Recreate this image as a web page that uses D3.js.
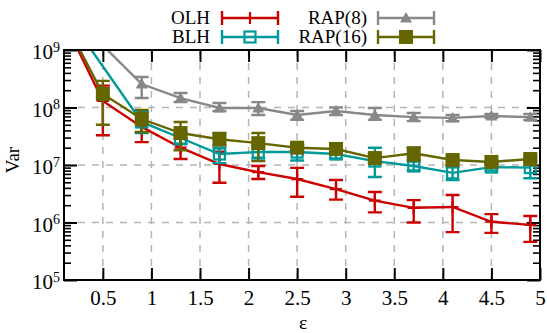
<!DOCTYPE html>
<html>
<head>
<meta charset="utf-8">
<script src="https://cdn.jsdelivr.net/npm/d3@7"></script>
<style>
  body { margin: 0; background: #fff; }
  svg { display: block; font-family: "Liberation Serif", "Times New Roman", serif; }
</style>
</head>
<body>
<svg id="chart"></svg>
<script>
// epsilon values (first one is off the top of the plot)
var eps = [0.1, 0.5, 0.9, 1.3, 1.7, 2.1, 2.5, 2.9, 3.3, 3.7, 4.1, 4.5, 4.9];

var olh   = [3.2e9, 1.3e8, 4.6e7, 2.0e7, 1.04e7, 7.5e6, 5.7e6, 3.8e6, 2.4e6, 1.8e6, 1.86e6, 1.03e6, 9.1e5];
var olhLo = [2.5e9, 3.3e7, 2.5e7, 1.27e7, 4.9e6, 5.7e6, 2.8e6, 2.5e6, 1.5e6, 1.0e6, 6.8e5, 6.6e5, 4.6e5];
var olhHi = [4e9, 2.4e8, 8.3e7, 2.9e7, 1.7e7, 9.6e6, 8.9e6, 5.5e6, 3.4e6, 2.45e6, 3.0e6, 1.4e6, 1.3e6];

var blh   = [4.8e9, null, 5.6e7, 2.95e7, 1.55e7, 1.68e7, 1.68e7, 1.55e7, 1.17e7, 9.6e6, 7.3e6, 9.2e6, 9.0e6];
var blhLo = [4e9, null, 3.6e7, 2.3e7, 1.08e7, 1.3e7, 1.2e7, 1.3e7, 6.2e6, 8.0e6, 5.5e6, 8.0e6, 5.9e6];
var blhHi = [6e9, null, 8.3e7, 3.6e7, 2.0e7, 2.1e7, 2.2e7, 1.9e7, 2.0e7, 1.15e7, 9.2e6, 1.05e7, 1.2e7];

var rap8   = [4.6e9, 1.2e9, 2.56e8, 1.46e8, 9.8e7, 9.8e7, 7.4e7, 8.7e7, 7.4e7, 6.8e7, 6.6e7, 7.1e7, 6.8e7];
var rap8Lo = [4e9, 1.1e9, 1.46e8, 1.25e8, 8.7e7, 7.4e7, 6.1e7, 7.4e7, 6.1e7, 5.8e7, 5.8e7, 6.6e7, 6.1e7];
var rap8Hi = [5e9, 1.4e9, 3.4e8, 1.79e8, 1.2e8, 1.24e8, 8.7e7, 1.0e8, 9.8e7, 8.0e7, 7.4e7, 7.7e7, 7.7e7];

var rap16   = [3.4e9, 1.72e8, 6.3e7, 3.6e7, 2.8e7, 2.4e7, 2.0e7, 1.9e7, 1.32e7, 1.6e7, 1.22e7, 1.13e7, 1.27e7];
var rap16Lo = [3e9, 5.0e7, 3.75e7, 1.8e7, 2.2e7, 1.17e7, 1.8e7, 1.6e7, 1.1e7, 1.2e7, 1.1e7, 1.05e7, 1.15e7];
var rap16Hi = [4e9, 2.9e8, 9.1e7, 5.6e7, 3.6e7, 3.6e7, 2.3e7, 2.2e7, 1.6e7, 2.0e7, 1.35e7, 1.2e7, 1.4e7];

var xTicks = [0.5, 1, 1.5, 2, 2.5, 3, 3.5, 4, 4.5, 5];
var xTickLabels = ["0.5", "1", "1.5", "2", "2.5", "3", "3.5", "4", "4.5", "5"];
var yTicks = [1e5, 1e6, 1e7, 1e8, 1e9];
var yTickExp = ["5", "6", "7", "8", "9"];

var seriesNames = ["OLH", "BLH", "RAP(8)", "RAP(16)"];
var seriesColors = ["#cc0000", "#009999", "#888888", "#666600"];
var seriesSymbols = ["plus", "openSquare", "triangle", "square"];

var svgW = 547, svgH = 333;
var svg = d3.select("#chart").attr("width", svgW).attr("height", svgH);

var padL = 64, padR = 540, padT = 50, padB = 280;

var xScale = d3.scaleLinear().domain([0.1, 5]).range([padL, padR]);
var yScale = d3.scaleLog().domain([1e5, 1e9]).range([padB, padT]);

// clip for the plot area
svg.append("defs").append("clipPath").attr("id", "plotclip")
  .append("rect")
  .attr("x", padL).attr("y", padT)
  .attr("width", padR - padL).attr("height", padB - padT);

// dashed grid
var grid = svg.append("g").attr("stroke", "#b4b4b4").attr("stroke-width", 1.5)
  .attr("stroke-dasharray", "7,7");
grid.selectAll("line.v")
  .data(xTicks.filter(function(d) { return d < 5; }))
  .enter().append("line")
  .attr("x1", function(d) { return xScale(d); })
  .attr("x2", function(d) { return xScale(d); })
  .attr("y1", padB).attr("y2", padT);
grid.selectAll("line.h")
  .data([1e6, 1e7, 1e8])
  .enter().append("line")
  .attr("x1", padL).attr("x2", padR)
  .attr("y1", function(d) { return yScale(d); })
  .attr("y2", function(d) { return yScale(d); });

// minor ticks for log axis
var minorTicks = [];
for (var e = 5; e < 9; e++) {
  for (var m = 2; m <= 9; m++) minorTicks.push(m * Math.pow(10, e));
}

// axes
var xBottom = svg.append("g")
  .attr("transform", "translate(0," + padB + ")")
  .call(d3.axisBottom(xScale).tickValues(xTicks).tickSize(-12).tickPadding(10)
    .tickFormat(function(d, i) { return xTickLabels[i]; }));
var xTop = svg.append("g")
  .attr("transform", "translate(0," + padT + ")")
  .call(d3.axisTop(xScale).tickValues(xTicks).tickSize(-12).tickFormat(""));

var yLeft = svg.append("g")
  .attr("transform", "translate(" + padL + ",0)")
  .call(d3.axisLeft(yScale).tickValues(yTicks).tickSize(-13).tickPadding(4)
    .tickFormat(""));
var yLeftMinor = svg.append("g")
  .attr("transform", "translate(" + padL + ",0)")
  .call(d3.axisLeft(yScale).tickValues(minorTicks).tickSize(-7).tickFormat(""));
var yRight = svg.append("g")
  .attr("transform", "translate(" + padR + ",0)")
  .call(d3.axisRight(yScale).tickValues(yTicks).tickSize(-13).tickFormat(""));
var yRightMinor = svg.append("g")
  .attr("transform", "translate(" + padR + ",0)")
  .call(d3.axisRight(yScale).tickValues(minorTicks).tickSize(-7).tickFormat(""));

[xBottom, xTop, yLeft, yRight, yLeftMinor, yRightMinor].forEach(function(g) {
  g.select(".domain").remove();
  g.selectAll(".tick line").attr("stroke", "#000").attr("stroke-width", 2);
});
yLeftMinor.selectAll(".tick line").attr("stroke-width", 1.6);
yRightMinor.selectAll(".tick line").attr("stroke-width", 1.6);

xBottom.selectAll(".tick text")
  .attr("fill", "#000")
  .style("font-size", "21px")
  .style("font-family", "Liberation Serif, serif");

// y labels as 10^n
yLeft.selectAll(".tick text").each(function(d, i) {
  var t = d3.select(this);
  t.text(null)
    .attr("fill", "#000")
    .attr("dy", "0.42em")
    .style("font-size", "21px")
    .style("font-family", "Liberation Serif, serif");
  t.append("tspan").text("10");
  t.append("tspan").attr("dy", "-0.55em").style("font-size", "14px").text(yTickExp[i]);
});

// axis titles
svg.append("text")
  .attr("transform", "translate(19,160) rotate(-90)")
  .attr("text-anchor", "middle")
  .style("font-size", "19px")
  .text("Var");
svg.append("text")
  .attr("x", 303).attr("y", 328.5)
  .attr("text-anchor", "middle")
  .style("font-size", "19.5px")
  .text("ε");

// series
var allSeries = [
  { vals: olh, lo: olhLo, hi: olhHi },
  { vals: blh, lo: blhLo, hi: blhHi },
  { vals: rap8, lo: rap8Lo, hi: rap8Hi },
  { vals: rap16, lo: rap16Lo, hi: rap16Hi }
];

function drawSymbol(g, type, color) {
  if (type == "plus") {
    g.append("path").attr("d", "M-6,0H6M0,-6V6")
      .attr("stroke", color).attr("stroke-width", 2.2).attr("fill", "none");
  } else if (type == "openSquare") {
    g.append("rect").attr("x", -5.5).attr("y", -5.5).attr("width", 11).attr("height", 11)
      .attr("fill", "none").attr("stroke", color).attr("stroke-width", 2.2);
  } else if (type == "triangle") {
    g.append("path").attr("d", "M0,-6L6,4.5H-6Z").attr("fill", color);
  } else {
    g.append("rect").attr("x", -7).attr("y", -7).attr("width", 14).attr("height", 14)
      .attr("fill", color);
  }
}

var plot = svg.append("g").attr("clip-path", "url(#plotclip)");

allSeries.forEach(function(s, si) {
  var color = seriesColors[si];
  var pts = [];
  for (var i = 0; i < eps.length; i++) {
    if (s.vals[i] != null) pts.push({ x: eps[i], v: s.vals[i], lo: s.lo[i], hi: s.hi[i] });
  }
  var g = plot.append("g");

  var line = d3.line()
    .x(function(d) { return xScale(d.x); })
    .y(function(d) { return yScale(d.v); });
  g.append("path").datum(pts)
    .attr("d", line)
    .attr("fill", "none").attr("stroke", color).attr("stroke-width", 2.4);

  var capW = 7;
  var bars = g.selectAll("g.bar").data(pts).enter().append("g");
  bars.append("path")
    .attr("d", function(d) {
      var cx = xScale(d.x), y1 = yScale(d.lo), y2 = yScale(d.hi);
      return "M" + cx + "," + y1 + "V" + y2 +
        "M" + (cx - capW) + "," + y1 + "H" + (cx + capW) +
        "M" + (cx - capW) + "," + y2 + "H" + (cx + capW);
    })
    .attr("fill", "none").attr("stroke", color).attr("stroke-width", 2.4);

  bars.each(function(d) {
    var m = d3.select(this).append("g")
      .attr("transform", "translate(" + xScale(d.x) + "," + yScale(d.v) + ")");
    drawSymbol(m, seriesSymbols[si], color);
  });
});

// frame
svg.append("rect")
  .attr("x", padL).attr("y", padT)
  .attr("width", padR - padL).attr("height", padB - padT)
  .attr("fill", "none").attr("stroke", "#000").attr("stroke-width", 2);

// legend
var legendPos = [
  { tx: 210, lx: 222, y: 18 },
  { tx: 210, lx: 222, y: 37 },
  { tx: 367, lx: 378, y: 18 },
  { tx: 367, lx: 378, y: 37 }
];
seriesNames.forEach(function(name, i) {
  var p = legendPos[i];
  var color = seriesColors[i];
  var lg = svg.append("g");
  lg.append("text")
    .attr("x", p.tx).attr("y", p.y).attr("dy", "0.34em")
    .attr("text-anchor", "end")
    .style("font-size", "19px")
    .text(name);
  var w = 56;
  lg.append("path")
    .attr("d", "M" + p.lx + "," + p.y + "H" + (p.lx + w) +
      "M" + p.lx + "," + (p.y - 7) + "V" + (p.y + 7) +
      "M" + (p.lx + w) + "," + (p.y - 7) + "V" + (p.y + 7))
    .attr("fill", "none").attr("stroke", color).attr("stroke-width", 2.4);
  var m = lg.append("g").attr("transform", "translate(" + (p.lx + w / 2) + "," + p.y + ")");
  drawSymbol(m, seriesSymbols[i], color);
});
</script>
</body>
</html>
